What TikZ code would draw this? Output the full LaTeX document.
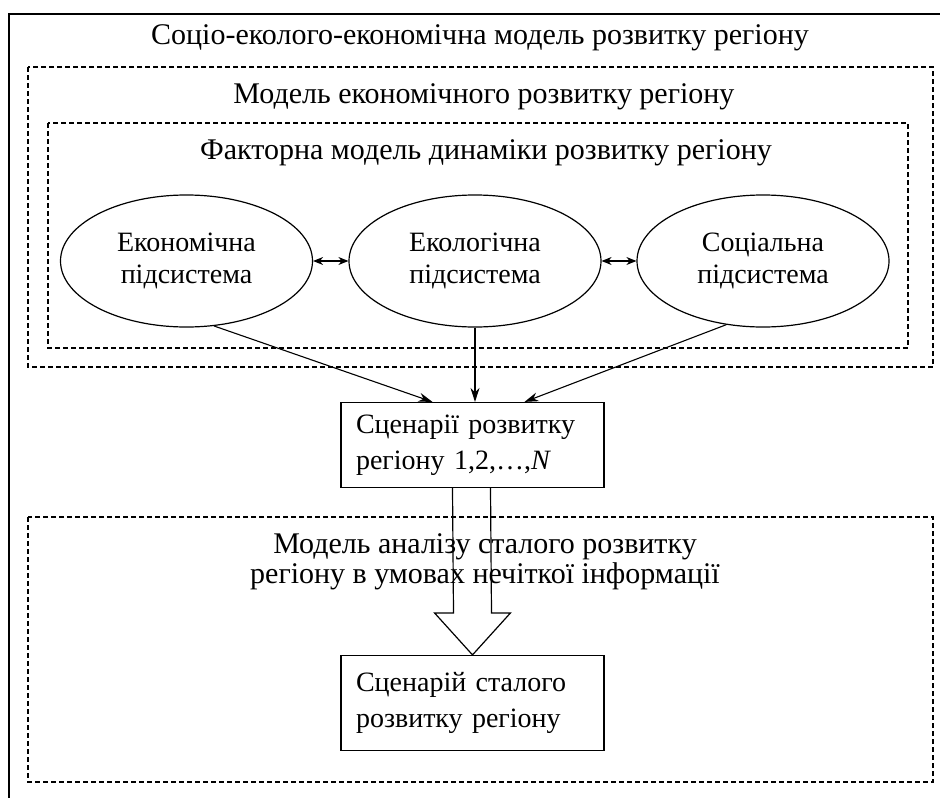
\documentclass[tikz,border=0pt]{standalone}
\usepackage{fontspec}
\setmainfont{Liberation Serif}
\usetikzlibrary{shapes.geometric,arrows.meta,calc}
\begin{document}
\begin{tikzpicture}[x=1pt,y=-1pt,
  txt/.style={font=\fontsize{30}{30}\selectfont, inner sep=0pt, align=center},
  frame/.style={draw, line width=1.7pt, dash pattern=on 5pt off 3pt},
  sub/.style={ellipse, draw, line width=1.2pt, minimum width=252pt,
    minimum height=132pt, inner sep=0pt, align=center,
    font=\fontsize{28}{32}\selectfont},
  block/.style={rectangle, draw, line width=1.2pt, minimum width=263pt,
    minimum height=85pt, text width=233pt, inner xsep=15pt, inner ysep=0pt,
    align=left, font=\fontsize{28}{36}\selectfont},
  link/.style={line width=1.1pt, -{Stealth[length=14pt,width=9pt]}},
  both/.style={line width=1.1pt,
    {Stealth[length=10pt,width=8pt]}-{Stealth[length=10pt,width=8pt]}},
  hollow/.style={draw, line width=1.2pt, line join=miter}
]
\useasboundingbox (0,0) rectangle (940,798);
\fill[white] (0,0) rectangle (940,798);

% outer solid frame
\draw[line width=2pt] (9,798) -- (9,14) -- (940,14);
\node[txt] (title) at (480,38) {Соціо-еколого-економічна модель розвитку регіону};

% economic development model
\draw[frame] (28,67) rectangle (933,367);
\node[txt] (econtitle) at (484,97) {Модель економічного розвитку регіону};

% factor model of dynamics
\draw[frame] (48,123) rectangle (908,348);
\node[txt] (factitle) at (486,153) {Факторна модель динаміки розвитку регіону};

% subsystems
\node[sub] (eco)  at (186.5,261) {Економічна\\підсистема};
\node[sub] (ecol) at (475,261) {Екологічна\\підсистема};
\node[sub] (soc)  at (763,261) {Соціальна\\підсистема};
\draw[both] (eco.east) -- (ecol.west);
\draw[both] (ecol.east) -- (soc.west);

% development scenarios
\node[block] (scen) at (472.5,445) {Сценарії розвитку\\регіону 1,2,\ldots,\textit{N}};
\draw[link] (eco.-67) -- ($(scen.north)+(-40,0)$);
\draw[link] (ecol.south) -- (ecol.south |- scen.north);
\draw[link] (soc.-120) -- ($(scen.north)+(52,0)$);

% sustainable development analysis model
\draw[frame] (28,517) rectangle (933,782);
\node[txt] (anal) at (485,562) {Модель аналізу сталого розвитку\\регіону в умовах нечіткої інформації};

\node[block, minimum height=95pt] (sust) at (472.5,703) {Сценарій сталого\\розвитку регіону};

% hollow block arrow
\draw[hollow] ($(scen.south)+(-20,0)$) -- ($(sust.north)+(-19,-42)$) -- ++(-19,0)
  -- (sust.north) -- ($(sust.north)+(38,-42)$) -- ++(-19,0) -- ($(scen.south)+(18,0)$);
\end{tikzpicture}
\end{document}
